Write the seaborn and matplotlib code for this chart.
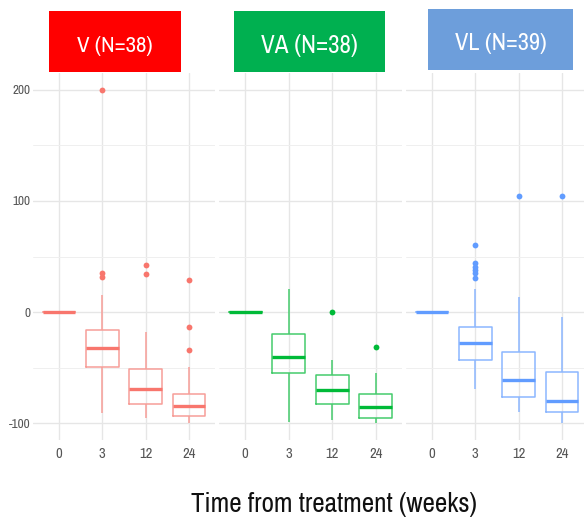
import matplotlib
matplotlib.use("Agg")
import matplotlib.pyplot as plt
from matplotlib.patches import Rectangle
from matplotlib import font_manager as fm
import seaborn as sns
import pandas as pd

# ---------------- data ----------------
weeks = ["0", "3", "12", "24"]
groups = ["V (N=38)", "VA (N=38)", "VL (N=39)"]

# five-number summaries per week: [lower whisker, Q1, median, Q3, upper whisker]
v_stats = [[0, 0, 0, 0, 0], [-91, -49, -32, -16, 15], [-95, -83, -69, -51, -18], [-100, -93, -84, -74, -49]]
va_stats = [[0, 0, 0, 0, 0], [-99, -55, -40, -20, 21], [-97, -83, -70, -57, -43], [-100, -95, -85, -74, -55]]
vl_stats = [[0, 0, 0, 0, 0], [-69, -43, -28, -13, 21], [-90, -76, -61, -36, 14], [-100, -90, -80, -54, -4]]

# outlying points
v_out_weeks = ["3", "3", "3", "12", "12", "24", "24", "24"]
v_out_vals = [200, 35, 32, 42, 34, 29, -13, -34]
va_out_weeks = ["12", "24"]
va_out_vals = [0, -31]
vl_out_weeks = ["3", "3", "3", "3", "3", "3", "12", "24"]
vl_out_vals = [60, 44, 41, 38, 35, 31, 104, 104]

line_colors = ["#F8766D", "#00BA38", "#619CFF"]
edge_colors = ["#F79E98", "#45CB6C", "#8CB7FF"]
strip_colors = ["#FF0000", "#00B050", "#6D9EDB"]

# ---------------- fonts ----------------
sns.set_theme(style="whitegrid")


def pick_narrow():
    best = None
    for f in fm.fontManager.ttflist:
        if f.style != "normal":
            continue
        w = f.weight
        if isinstance(w, str):
            if w not in ("normal", "regular", "book", "medium"):
                continue
        elif w < 350 or w > 500:
            continue
        nm = f.name
        st = str(f.stretch)
        fn = f.fname.lower()
        score = None
        if "Narrow" in nm or "narrow" in fn:
            score = 0
        elif "Condensed" in nm or st in ("condensed", "extra-condensed") or "condensed" in fn:
            if "semi" in fn or "semicondensed" in nm.lower() or st == "semi-condensed":
                score = 2
            else:
                score = 1
        if score is not None and (best is None or score < best[0]):
            best = (score, f.fname)
    return best


nb = pick_narrow()
if nb is not None:
    def FP(size):
        return fm.FontProperties(fname=nb[1], size=size)
else:
    def FP(size):
        return fm.FontProperties(family=["Liberation Sans", "DejaVu Sans"], size=size)

plt.rcParams["font.family"] = ["Liberation Sans", "DejaVu Sans"]

W, H = 584, 522
fig = plt.figure(figsize=(W / 100, H / 100), dpi=100)
fig.patch.set_facecolor("white")
renderer = fig.canvas.get_renderer()


def fit_text(t, target_w, max_size):
    t.set_fontproperties(FP(20))
    w = t.get_window_extent(renderer=renderer).width
    size = min(max_size, 20 * target_w / w)
    t.set_fontproperties(FP(size))
    return size


panel_px = [(33, 215), (219, 402), (406, 588)]
top_px, bot_px = 73, 440

stats_all = [v_stats, va_stats, vl_stats]
outw_all = [v_out_weeks, va_out_weeks, vl_out_weeks]
outv_all = [v_out_vals, va_out_vals, vl_out_vals]

xsize = 10.5
ysize = 9.5

for i, (x0, x1) in enumerate(panel_px):
    ax = fig.add_axes([x0 / W, (H - bot_px) / H, (x1 - x0) / W, (bot_px - top_px) / H])
    ax.set_facecolor("white")
    rows = []
    for wk, st in zip(weeks, stats_all[i]):
        for v in st:
            rows.append({"week": wk, "value": v})
    df = pd.DataFrame(rows)
    c = line_colors[i]
    ec = edge_colors[i]
    sns.boxplot(data=df, x="week", y="value", order=weeks, ax=ax, color=ec,
                fill=False, width=0.76, linewidth=1.1, showfliers=False,
                showcaps=False,
                medianprops={"linewidth": 2.4, "color": c},
                boxprops={"color": ec, "linewidth": 1.1},
                whiskerprops={"color": ec, "linewidth": 1.1})
    dfo = pd.DataFrame({"week": outw_all[i], "value": outv_all[i]})
    sns.stripplot(data=dfo, x="week", y="value", order=weeks, ax=ax, color=c,
                  jitter=False, size=4.2, linewidth=0)
    ax.set_xlim(-0.6, 3.6)
    ax.set_ylim(-115, 215)
    ax.set_yticks([-100, 0, 100, 200])
    ax.set_yticks([-50, 50, 150], minor=True)
    ax.grid(True, which="major", axis="both", color="#E6E6E6", linewidth=1.0)
    ax.grid(True, which="minor", axis="y", color="#EFEFEF", linewidth=0.7)
    ax.set_axisbelow(True)
    for s in ax.spines.values():
        s.set_visible(False)
    ax.set_xlabel("")
    ax.set_ylabel("")
    ax.tick_params(axis="both", which="both", length=0)
    ax.tick_params(axis="x", pad=5)
    ax.tick_params(axis="y", pad=2)
    ax.set_xticks(range(len(weeks)))
    ax.set_xticklabels(weeks, fontproperties=FP(xsize), color="#555555")
    if i == 0:
        ax.set_yticklabels(["-100", "0", "100", "200"], fontproperties=FP(ysize), color="#555555")
    else:
        ax.set_yticklabels([])

# strip boxes
boxes_px = [(49, 181, 11, 72), (234, 385, 11, 72), (428, 573, 9, 70)]
label_w = [76, 97, 92]
for (bx0, bx1, by0, by1), col, lab, tw in zip(boxes_px, strip_colors, groups, label_w):
    fig.patches.append(Rectangle((bx0 / W, (H - by1) / H), (bx1 - bx0) / W, (by1 - by0) / H,
                                 transform=fig.transFigure, facecolor=col, edgecolor="none",
                                 zorder=5))
    t = fig.text((bx0 + bx1) / 2 / W, (H - (by0 + by1) / 2 - 4) / H, lab, color="white",
                 ha="center", va="center", zorder=6)
    fit_text(t, tw, 24)

title = fig.text(334 / W, (H - 512) / H, "Time from treatment (weeks)", ha="center",
                 va="baseline", color="#111111")
fit_text(title, 286, 26)

fig.savefig("out.png", dpi=100)
